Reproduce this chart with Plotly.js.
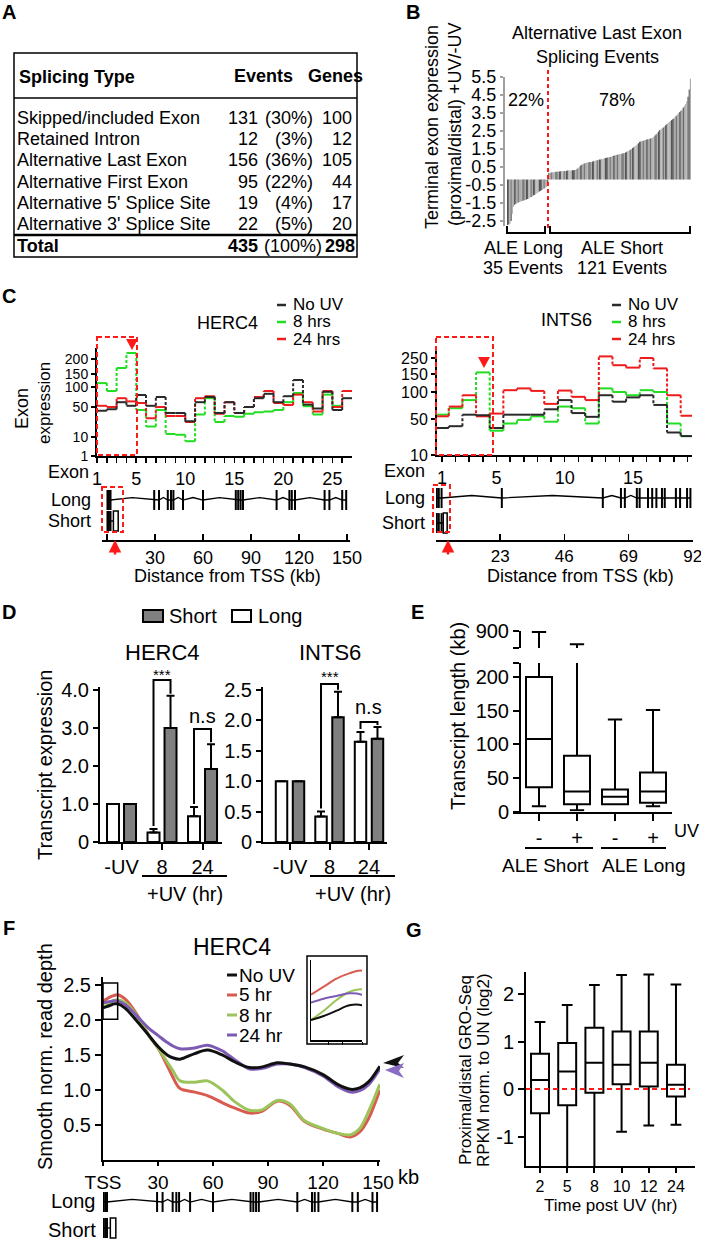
<!DOCTYPE html>
<html><head><meta charset="utf-8">
<script src="https://cdn.plot.ly/plotly-3.0.1.min.js"></script>
<style>html,body{margin:0;padding:0;background:#fff}#chart{width:701px;height:1244px}</style>
</head><body><div id="chart"></div>
<script>
// ================= DATA =================
// Panel A
const splicingTypes = ['Skipped/included Exon','Retained Intron','Alternative Last Exon','Alternative First Exon',"Alternative 5' Splice Site","Alternative 3' Splice Site"];
const splicingEvents = [131, 12, 156, 95, 19, 22];
const splicingEventPct = ['30%','3%','36%','22%','4%','5%'];
const splicingGenes = [100, 12, 105, 44, 17, 20];
const totalEvents = 435, totalEventPct = '100%', totalGenes = 298;

// Panel B (sorted terminal exon expression ratios)
const aleLongValues = [-2.72,-2.70,-2.66,-2.5,-2.1,-1.72,-1.6,-1.55,-1.5,-1.47,-1.44,-1.42,-1.4,-1.38,-1.35,-1.33,-1.31,-1.28,-1.25,-1.2,-1.17,-1.13,-1.08,-1.04,-1.0,-0.95,-0.9,-0.86,-0.82,-0.78,-0.74,-0.7,-0.66,-0.6,-0.55];
const aleShortValues = [0.16,0.18,0.19,0.2,0.21,0.22,0.23,0.24,0.25,0.25,0.26,0.27,0.27,0.28,0.28,0.29,0.3,0.3,0.31,0.31,0.32,0.32,0.33,0.34,
  0.4,0.46,0.52,0.58,0.63,0.67,0.7,0.72,0.74,0.75,0.76,0.77,0.78,0.8,
  0.82,0.84,0.86,0.88,0.9,0.91,0.92,0.94,0.96,0.98,1.0,1.01,1.02,1.04,1.06,1.08,1.1,1.12,1.14,1.16,1.18,1.2,1.21,1.22,1.24,1.26,1.28,1.3,
  1.34,1.38,1.42,1.46,1.5,1.55,1.6,1.65,1.7,1.76,1.82,1.9,
  1.92,1.94,1.96,1.98,2.0,2.02,2.04,2.06,2.08,2.1,2.12,
  2.18,2.25,2.32,2.4,2.47,2.55,2.6,2.65,2.7,2.75,2.82,2.88,2.94,3.0,
  3.05,3.1,3.15,3.2,3.28,3.35,3.42,3.5,3.56,3.62,3.7,3.8,3.9,
  4.0,4.15,4.4,4.8,5.4];
const bTickVals = [-2.5,-1.5,-0.5,0.5,1.5,2.5,3.5,4.5,5.5];

// Panel C - HERC4 exon expression
const hercExons = [1,2,3,4,5,6,7,8,9,10,11,12,13,14,15,16,17,18,19,20,21,22,23,24,25,26];
const hercNoUV = [45,47,62,53,80,53,75,42,42,31,62,75,42,62,42,50,72,83,62,77,127,56,48,88,46,72];
const herc8h   = [115,90,170,220,46,24,46,14,13,8,40,72,30,38,37,41,43,44,46,62,85,52,40,81,53,null];
const herc24h  = [53,50,72,64,60,35,50,38,38,30,72,77,41,62,42,50,75,90,60,55,81,62,44,90,50,90];
const hercExpTicks = [1,10,50,100,150,200];
const hercExonLabels = [1,5,10,15,20,25];
// Panel C - INTS6 exon expression
const intsExons = [1,2,3,4,5,6,7,8,9,10,11,12,13,14,15,16,17,18,19];
const intsNoUV = [40,42,58,57,40,58,58,58,68,85,61,54,94,82,90,94,76,35,31];
const ints8h   = [58,70,85,160,37,45,49,55,47,73,70,45,110,100,94,105,100,45,31];
const ints24h  = [55,73,94,55,60,105,110,103,78,104,91,85,260,205,190,250,185,94,56];
const intsExpTicks = [10,50,100,150,250];
const intsExonLabels = [1,5,10,15];
// gene structures (kb from TSS)
const hercLongExonsKb = [0.3,1.2,2.2,29.5,32.5,38,40,41.5,47.5,60,80.5,82,83.5,85,106,114,115.5,117.5,136,139,147,149.5];
const hercShortExonsKb = [0.3,1.2,2.2];
const hercShortLastExonKb = [4,7];
const intsLongExonsKb = [0.3,1.0,2.0,23.6,59.8,66.3,67.7,72,73,76,77.5,79,81,82,86,87.5,90,91.2];
const intsShortExonsKb = [0.3,1.0,2.0];
const intsShortLastExonKb = [2.6,4.0];
const hercDistTicks = [0,30,60,90,120,150];
const intsDistTicks = [0,23,46,69,92];

// Panel D - transcript expression
const dCategories = ['-UV','8','24'];
const hercLong = [1.0,0.25,0.68];
const hercLongErr = [null,0.09,0.24];
const hercShort = [1.0,3.0,1.92];
const hercShortErr = [null,0.85,0.65];
const intsLong = [1.0,0.42,1.65];
const intsLongErr = [null,0.08,0.16];
const intsShort = [1.0,2.05,1.7];
const intsShortErr = [null,0.42,0.19];

// Panel E - transcript length (kb)
const eGroupsUV = ['-','+','-','+'];
const eQ1 = [36,11,11,13];
const eMedian = [108,30,22,30];
const eQ3 = [200,83,33,58];
const eLower = [8,2,11,8];
const eUpper = [895,810,137,151];

// Panel F - smooth normalized read depth, HERC4
const fKb = [0,2,4,6,8,12,18,25,30,35,38,42,50,57,65,72,80,87,95,102,110,120,128,135,140,145,151];
const fNoUV = [2.175,2.19,2.21,2.23,2.23,2.17,2.0,1.78,1.62,1.5,1.46,1.44,1.52,1.57,1.5,1.4,1.32,1.33,1.39,1.37,1.33,1.22,1.08,1.01,1.03,1.12,1.34];
const f5hr  = [2.27,2.3,2.33,2.35,2.36,2.3,2.1,1.78,1.6,1.35,1.19,1.02,0.97,0.92,0.82,0.74,0.67,0.7,0.84,0.78,0.55,0.44,0.38,0.33,0.4,0.6,1.0];
const f8hr  = [2.175,2.21,2.25,2.28,2.29,2.25,2.08,1.78,1.6,1.4,1.28,1.13,1.11,1.13,1.0,0.83,0.71,0.72,0.85,0.8,0.56,0.45,0.38,0.36,0.45,0.7,1.08];
const f24hr = [2.24,2.255,2.265,2.275,2.27,2.22,2.07,1.88,1.78,1.68,1.63,1.59,1.6,1.64,1.56,1.43,1.3,1.31,1.37,1.37,1.32,1.2,1.05,0.97,0.99,1.08,1.3];
const fTickKb = [0,30,60,90,120,150];
const fTickLabels = ['TSS','30','60','90','120','150'];

// Panel G - proximal/distal GRO-Seq
const gTimes = ['2','5','8','10','12','24'];
const gQ1 = [-0.51,-0.34,-0.08,0.1,0.05,-0.16];
const gMedian = [0.19,0.37,0.55,0.51,0.55,0.09];
const gQ3 = [0.74,0.97,1.29,1.21,1.21,0.51];
const gLower = [-1.72,-2.0,-1.8,-0.9,-0.77,-0.75];
const gUpper = [1.41,1.77,2.19,2.4,2.41,2.2];

// ================= HELPERS =================
const W = 701, H = 1244;
const X = p => p / W;
const Y = p => 1 - p / H;
const dX = (a, b) => [X(a), X(b)];
const dY = (top, bottom) => [Y(bottom), Y(top)];
const FONT = 'Liberation Sans, Arial, Helvetica, sans-serif';
const BLACK = '#000';
const GREEN = '#22dd22', RED = '#ee1c1c', DARK = '#2a2a2a';
const F = (s) => ({size:s, family:FONT, color:BLACK});

function ax(o) {
  return Object.assign({showgrid:false, zeroline:false, showline:true, linecolor:BLACK, linewidth:2,
    ticks:'outside', tickcolor:BLACK, tickwidth:2, ticklen:5, tickfont:F(18), ticklabeloverflow:'allow',
    fixedrange:true, automargin:false}, o);
}
const annotations = [];
const shapes = [];
function txt(t, x, y, o) {
  annotations.push(Object.assign({text:t, x:X(x), y:Y(y), xref:'paper', yref:'paper', showarrow:false,
    xanchor:'center', yanchor:'middle', font:F(18), borderpad:0}, o || {}));
}
function lineP(x0, y0, x1, y1, o) {
  shapes.push(Object.assign({type:'line', xref:'paper', yref:'paper', x0:X(x0), y0:Y(y0), x1:X(x1), y1:Y(y1),
    line:{color:BLACK, width:2}}, o || {}));
}
function rectP(x0, y0, x1, y1, o) {
  shapes.push(Object.assign({type:'rect', xref:'paper', yref:'paper', x0:X(x0), y0:Y(y0), x1:X(x1), y1:Y(y1),
    line:{color:BLACK, width:1.5}}, o || {}));
}
function pathP(pts, o) {
  const closed = !(o && o.closed === false);
  const d = pts.map((p, i) => (i ? 'L' : 'M') + X(p[0]) + ',' + Y(p[1])).join(' ') + (closed ? ' Z' : '');
  const s = Object.assign({type:'path', xref:'paper', yref:'paper', path:d, line:{width:0}}, o || {});
  delete s.closed;
  shapes.push(s);
}
// piecewise axis for segmented exon-expression scales
function segMap(v, vals, pos) {
  if (v == null) return null;
  for (let i = 0; i < vals.length - 1; i++) {
    if (v <= vals[i + 1] || i === vals.length - 2) {
      return pos[i] + (v - vals[i]) / (vals[i + 1] - vals[i]) * (pos[i + 1] - pos[i]);
    }
  }
}
// pixel geometry of the D subplots (shared by layout and bracket annotations)
const D1 = {x0:100, x1:222, r0:-0.531, r1:2.481, yTop:687, yBot:842, yMax:4.079};
const D2 = {x0:263, x1:387, r0:-0.684, r1:2.456, yTop:687, yBot:842, yMax:2.549};
const pxX = (g, v) => g.x0 + (v - g.r0) / (g.r1 - g.r0) * (g.x1 - g.x0);
const pxY = (g, v) => g.yBot - v / g.yMax * (g.yBot - g.yTop);

const traces = [];

// ================= PANEL A (table) =================
txt('<b>A</b>', 9, 12, {font:F(20)});
rectP(14, 53, 357, 257, {line:{color:BLACK, width:1.5}});
lineP(14, 98, 357, 98, {line:{color:BLACK, width:1.5}});
lineP(14, 235, 357, 235, {line:{color:BLACK, width:2.5}});
txt('<b>Splicing Type</b>', 18, 77, {xanchor:'left'});
txt('<b>Events</b>', 263, 76);
txt('<b>Genes</b>', 335, 76);
splicingTypes.forEach((t, i) => {
  const y = 118 + i * 21.2;
  txt(t, 16, y, {xanchor:'left'});
  txt(String(splicingEvents[i]), 259, y, {xanchor:'right'});
  txt('(' + splicingEventPct[i] + ')', 314, y, {xanchor:'right'});
  txt(String(splicingGenes[i]), 353, y, {xanchor:'right'});
});
txt('<b>Total</b>', 16, 246, {xanchor:'left'});
txt('<b>' + totalEvents + '</b>', 259, 246, {xanchor:'right'});
txt('(' + totalEventPct + ')', 263, 246, {xanchor:'left'});
txt('<b>' + totalGenes + '</b>', 356, 246, {xanchor:'right'});

// ================= PANEL B =================
const B_BASE = -0.2;
const bVals = aleLongValues.concat(aleShortValues);
const shadePattern = 'DDLDLLDDLDLLLDDLDDLLDLDDLLLD';
traces.push({type:'bar', x:bVals.map((_, i) => i + 1), y:bVals.map(v => v - B_BASE), base:B_BASE,
  width:1, xaxis:'x', yaxis:'y', hoverinfo:'skip',
  marker:{color:bVals.map((_, i) => shadePattern[i % shadePattern.length] === 'D' ? '#555555' : '#adadad'), line:{width:0}}});
txt('<b>B</b>', 413, 12, {font:F(20)});
txt('Alternative Last Exon', 597, 33);
txt('Splicing Events', 597, 57);
txt('22%', 526, 100);
txt('78%', 617, 100);
lineP(548, 70, 548, 230, {line:{color:'#ff1a1a', width:2, dash:'4px,3px'}});
pathP([[507,226],[507,233],[545,233],[545,226]], {closed:false, line:{color:BLACK, width:2}});
pathP([[550,226],[550,233],[690,233],[690,226]], {closed:false, line:{color:BLACK, width:2}});
txt('ALE Long', 523, 248);
txt('35 Events', 523, 268);
txt('ALE Short', 622, 248);
txt('121 Events', 622, 268);
txt('Terminal exon expression', 432, 127, {textangle:-90});
txt('(proximal/distal) +UV/-UV', 455, 124, {textangle:-90});

// ================= PANEL C =================
function stepTraces(xa, ya, exons, vals, mapFn, startOff, color) {
  const hx = [], hy = [], vx = [], vy = [];
  exons.forEach((e, i) => {
    const v = vals[i];
    if (v == null) return;
    const s = e + startOff;
    hx.push(s, s + 1, null); hy.push(mapFn(v), mapFn(v), null);
    const nv = vals[i + 1];
    if (i < exons.length - 1 && nv != null) { vx.push(s + 1, s + 1, null); vy.push(mapFn(v), mapFn(nv), null); }
  });
  return [
    {type:'scatter', mode:'lines', x:hx, y:hy, xaxis:xa, yaxis:ya, line:{color:color, width:2}, hoverinfo:'skip'},
    {type:'scatter', mode:'lines', x:vx, y:vy, xaxis:xa, yaxis:ya, line:{color:color, width:2, dash:'3px,2px'}, hoverinfo:'skip'}
  ];
}
function geneTraces(xa, ya, exons, row, halfH) {
  const ix = [], iy = [];
  exons.forEach((e, i) => {
    ix.push(e); iy.push(row);
    if (i < exons.length - 1 && exons[i + 1] - e > 4) { ix.push((e + exons[i + 1]) / 2); iy.push(row + 0.045); }
  });
  const ex = [], ey = [];
  exons.forEach(e => { ex.push(e, e, null); ey.push(row - halfH, row + halfH, null); });
  return [
    {type:'scatter', mode:'lines', x:ix, y:iy, xaxis:xa, yaxis:ya, line:{color:BLACK, width:1.3}, hoverinfo:'skip'},
    {type:'scatter', mode:'lines', x:ex, y:ey, xaxis:xa, yaxis:ya, line:{color:BLACK, width:2}, hoverinfo:'skip'}
  ];
}
function shortGene(xa, ya, exons, lastExon, row, halfH) {
  traces.push({type:'scatter', mode:'lines', x:[exons[0], lastExon[0]], y:[row, row], xaxis:xa, yaxis:ya, line:{color:BLACK, width:1.3}, hoverinfo:'skip'});
  geneTraces(xa, ya, exons, row, halfH).forEach(t => traces.push(t));
  shapes.push({type:'rect', xref:xa, yref:ya, x0:lastExon[0], x1:lastExon[1], y0:row - halfH, y1:row + halfH,
    line:{color:BLACK, width:1.5}, fillcolor:'rgba(0,0,0,0)'});
}
const hercPos = [0,19,49,69,82,97];
const intsPos = [0,36,63,81,97];
const hMap = v => segMap(v, hercExpTicks, hercPos);
const iMap = v => segMap(v, intsExpTicks, intsPos);

txt('<b>C</b>', 9, 296, {font:F(20)});
[[herc8h, GREEN], [herc24h, RED], [hercNoUV, DARK]].forEach(([vals, c]) =>
  stepTraces('x2', 'y2', hercExons, vals, hMap, 0, c).forEach(t => traces.push(t)));
[[ints8h, GREEN], [ints24h, RED], [intsNoUV, DARK]].forEach(([vals, c]) =>
  stepTraces('x4', 'y4', intsExons, vals, iMap, -0.5, c).forEach(t => traces.push(t)));
geneTraces('x3', 'y3', hercLongExonsKb, 0.727, 0.18).forEach(t => traces.push(t));
shortGene('x3', 'y3', hercShortExonsKb, hercShortLastExonKb, 0.345, 0.18);
geneTraces('x5', 'y5', intsLongExonsKb, 0.764, 0.18).forEach(t => traces.push(t));
shortGene('x5', 'y5', intsShortExonsKb, intsShortLastExonKb, 0.309, 0.18);

txt('HERC4', 227, 323);
txt('INTS6', 566, 320);
[[DARK, 'No UV', 305], [GREEN, '8 hrs', 322], [RED, '24 hrs', 339]].forEach(([c, t, y]) => {
  lineP(277, y, 286, y, {line:{color:c, width:2.5}});
  txt(t, 292, y, {xanchor:'left', font:F(17)});
  lineP(612, y, 621, y, {line:{color:c, width:2.5}});
  txt(t, 627, y, {xanchor:'left', font:F(17)});
});
txt('Exon', 22, 409, {textangle:-90});
txt('expression', 45, 403, {textangle:-90, font:F(17)});
txt('Exon', 90, 472, {xanchor:'right'});
txt('Exon', 426, 471, {xanchor:'right'});
txt('Long', 92, 500, {xanchor:'right'});
txt('Short', 92, 521, {xanchor:'right'});
txt('Long', 426, 498, {xanchor:'right'});
txt('Short', 426, 523, {xanchor:'right'});
txt('Distance from TSS (kb)', 227, 576);
txt('Distance from TSS (kb)', 580, 576);
const RD = {line:{color:'#ff1a1a', width:2, dash:'5px,3px'}, fillcolor:'rgba(0,0,0,0)'};
rectP(97, 337, 137, 455, RD);
rectP(436, 337, 493, 455, RD);
rectP(102, 487, 123, 532, RD);
rectP(433, 485, 450, 532, RD);
pathP([[126,339],[138,339],[132,350]], {fillcolor:'#ff1a1a'});
pathP([[478,357],[490,357],[484,368]], {fillcolor:'#ff1a1a'});
[[115, 540], [448, 540]].forEach(([x, y]) => {
  annotations.push({x:X(x), y:Y(y), xref:'paper', yref:'paper', text:'', showarrow:true, arrowhead:2,
    arrowsize:1, arrowwidth:2.5, arrowcolor:'#ff1a1a', ax:0, ay:16, standoff:0});
});

// ================= PANEL D =================
txt('<b>D</b>', 9, 612, {font:F(20)});
rectP(143, 610, 163, 622, {fillcolor:'#808080', line:{color:BLACK, width:2}});
txt('Short', 168, 616, {xanchor:'left', font:F(20)});
rectP(232, 610, 251, 622, {fillcolor:'#fff', line:{color:BLACK, width:2}});
txt('Long', 257, 616, {xanchor:'left', font:F(20)});
txt('HERC4', 162, 652, {font:F(22)});
txt('INTS6', 330, 652, {font:F(22)});
txt('Transcript expression', 45, 765, {textangle:-90, font:F(20)});
const nanify = a => a.map(v => v == null ? NaN : v);
function dBars(xa, ya, longV, longE, shortV, shortE, w, off) {
  const xs = dCategories.map((_, i) => i);
  const eb = (arr) => ({type:'data', symmetric:false, array:nanify(arr), arrayminus:arr.map(() => 0), color:BLACK, thickness:2, width:4});
  traces.push({type:'bar', x:xs, y:longV, width:w, offset:-off - w / 2, xaxis:xa, yaxis:ya, hoverinfo:'skip',
    marker:{color:'#fff', line:{color:BLACK, width:2}}, error_y:eb(longE)});
  traces.push({type:'bar', x:xs, y:shortV, width:w, offset:off - w / 2, xaxis:xa, yaxis:ya, hoverinfo:'skip',
    marker:{color:'#808080', line:{color:BLACK, width:2}}, error_y:eb(shortE)});
}
dBars('x6', 'y6', hercLong, hercLongErr, hercShort, hercShortErr, 0.296, 0.21);
dBars('x7', 'y7', intsLong, intsLongErr, intsShort, intsShortErr, 0.29, 0.215);
// significance brackets drawn in page pixels from the bar values
function bracket(g, i, off, longV, longE, shortV, shortE, topPx, label, labelPx) {
  const xl = pxX(g, i - off), xr = pxX(g, i + off);
  const yl = pxY(g, longV[i] + (longE[i] || 0)) - 3, yr = pxY(g, shortV[i] + (shortE[i] || 0)) - 2;
  pathP([[xl, yl], [xl, topPx], [xr, topPx], [xr, yr]], {closed:false, line:{color:BLACK, width:2}});
  txt(label, (xl + xr) / 2, labelPx, {font:F(label === '***' ? 15 : 20)});
}
bracket(D1, 1, 0.21, hercLong, hercLongErr, hercShort, hercShortErr, 680, '***', 674);
bracket(D1, 2, 0.21, hercLong, hercLongErr, hercShort, hercShortErr, 729, 'n.s', 716);
bracket(D2, 1, 0.215, intsLong, intsLongErr, intsShort, intsShortErr, 684, '***', 676);
bracket(D2, 2, 0.215, intsLong, intsLongErr, intsShort, intsShortErr, 722, 'n.s', 707);
lineP(142, 876, 227, 876);
lineP(310, 876, 395, 876);
txt('+UV (hr)', 185, 894, {font:F(20)});
txt('+UV (hr)', 353, 894, {font:F(20)});

// ================= PANEL E =================
txt('<b>E</b>', 417, 612, {font:F(20)});
const eBoxBase = {type:'box', orientation:'v', x:eGroupsUV.map((_, i) => i), q1:eQ1, median:eMedian, q3:eQ3,
  lowerfence:eLower, upperfence:eUpper, width:0.684, fillcolor:'#fff', line:{color:BLACK, width:2},
  whiskerwidth:0.55, boxpoints:false, hoverinfo:'skip', xaxis:'x8'};
traces.push(Object.assign({}, eBoxBase, {yaxis:'y8'}));
traces.push(Object.assign({}, eBoxBase, {yaxis:'y9'}));
txt('Transcript length (kb)', 458, 716, {textangle:-90, font:F(20)});
txt('UV', 686, 831);
lineP(525, 848, 593, 848);
lineP(601, 848, 666, 848);
txt('ALE Short', 545, 865, {font:F(19)});
txt('ALE Long', 643, 865, {font:F(19)});

// ================= PANEL F =================
txt('<b>F</b>', 9, 928, {font:F(20)});
const fSeries = [[f5hr, '#d95a4e'], [f8hr, '#9bc45a'], [f24hr, '#7d5bb3'], [fNoUV, '#111']];
fSeries.forEach(([v, c]) => traces.push({type:'scatter', mode:'lines', x:fKb, y:v, xaxis:'x10', yaxis:'y10',
  line:{color:c, width:3, shape:'spline', smoothing:0.9}, hoverinfo:'skip'}));
fSeries.forEach(([v, c]) => traces.push({type:'scatter', mode:'lines', x:fKb, y:v, xaxis:'x11', yaxis:'y11',
  line:{color:c, width:2, shape:'spline', smoothing:0.9}, hoverinfo:'skip'}));
geneTraces('x12', 'y12', hercLongExonsKb, 0.724, 0.172).forEach(t => traces.push(t));
shortGene('x12', 'y12', hercShortExonsKb, hercShortLastExonKb, 0.276, 0.172);
shapes.push({type:'rect', xref:'x10', yref:'y10', x0:0, x1:8, y0:2.01, y1:2.53, line:{color:BLACK, width:1.5}});
rectP(307, 956, 367, 1044, {line:{color:BLACK, width:1.5}});
txt('HERC4', 232, 947, {font:F(23)});
txt('Smooth norm. read depth', 45, 1057, {textangle:-90, font:F(20)});
txt('kb', 397, 1177, {xanchor:'left', font:F(20)});
[['#111', 'No UV', 975], ['#d95a4e', '5 hr', 995], ['#9bc45a', '8 hr', 1015], ['#7d5bb3', '24 hr', 1035]].forEach(([c, t, y]) => {
  lineP(227, y, 237, y, {line:{color:c, width:3}});
  txt(t, 238, y, {xanchor:'left', font:F(19)});
});
pathP([[383,1063],[404,1055],[398,1063],[404,1068]], {fillcolor:'#111'});
pathP([[385,1070],[404,1063],[399,1071],[404,1078]], {fillcolor:'#8a6cc4'});
txt('Long', 97, 1201, {xanchor:'right', font:F(20)});
txt('Short', 97, 1230, {xanchor:'right', font:F(20)});

// ================= PANEL G =================
txt('<b>G</b>', 414, 930, {font:F(20)});
traces.push({type:'box', orientation:'v', x:gTimes.map((_, i) => i), q1:gQ1, median:gMedian, q3:gQ3,
  lowerfence:gLower, upperfence:gUpper, width:0.66, fillcolor:'#fff', line:{color:BLACK, width:2},
  whiskerwidth:0.6, boxpoints:false, hoverinfo:'skip', xaxis:'x13', yaxis:'y13'});
shapes.push({type:'line', xref:'x13 domain', yref:'y13', x0:0, x1:0.97, y0:0, y1:0, layer:'above',
  line:{color:'#ff1a1a', width:2, dash:'5px,4px'}});
txt('Proximal/distal GRO-Seq', 465, 1070, {textangle:-90, font:F(17)});
txt('RPKM norm. to UN (log2)', 483, 1070, {textangle:-90, font:F(17)});
txt('Time post UV (hr)', 611, 1205, {font:F(17)});

// ================= LAYOUT =================
const layout = {
  width:W, height:H, margin:{l:0, r:0, t:0, b:0, pad:0}, showlegend:false,
  paper_bgcolor:'#fff', plot_bgcolor:'rgba(0,0,0,0)', barmode:'overlay',
  font:F(18),
  // B
  xaxis: ax({domain:dX(507, 691), range:[0.5, 156.5], visible:false, anchor:'y'}),
  yaxis: ax({domain:dY(77, 226), range:[-2.78, 5.5], anchor:'free', position:X(504), linecolor:'#a0a0a0',
    tickcolor:'#a0a0a0', ticklen:3, tickwidth:1.5, tickvals:bTickVals, ticktext:bTickVals.map(v => v.toFixed(1))}),
  // C HERC4 exon
  xaxis2: ax({domain:dX(97, 352), range:[1, 27], anchor:'y2', tickvals:hercExons,
    ticktext:hercExons.map(e => hercExonLabels.includes(e) ? String(e) : ''), ticklen:5, tickwidth:1.5}),
  yaxis2: ax({domain:dY(348, 456), range:[0, 108], anchor:'x2', tickvals:hercExpTicks.map(hMap),
    ticktext:hercExpTicks.map(String), tickfont:F(14), ticklen:4, tickwidth:1.5}),
  xaxis3: ax({domain:dX(102.2, 350.2), range:[-3, 152], anchor:'y3', tickvals:hercDistTicks,
    ticktext:hercDistTicks.map(v => v === 0 ? '' : String(v)), ticks:'inside', ticklen:6, tickwidth:1.5}),
  yaxis3: ax({domain:dY(485, 540), range:[0, 1], visible:false, anchor:'x3'}),
  // C INTS6 exon
  xaxis4: ax({domain:dX(435, 692), range:[0.49, 19.33], anchor:'y4', tickvals:intsExons,
    ticktext:intsExons.map(e => intsExonLabels.includes(e) ? String(e) : ''), ticklen:5, tickwidth:1.5}),
  yaxis4: ax({domain:dY(348, 455), range:[0, 107], anchor:'free', position:X(436), tickvals:intsExpTicks.map(iMap),
    ticktext:intsExpTicks.map(String), tickfont:F(16), ticklen:4, tickwidth:1.5}),
  xaxis5: ax({domain:dX(436, 693.2), range:[0, 92.2], anchor:'y5', tickvals:intsDistTicks,
    ticktext:intsDistTicks.map(v => v === 0 ? '' : String(v)), ticks:'inside', ticklen:6, tickwidth:1.5, tickfont:F(17)}),
  yaxis5: ax({domain:dY(485, 540), range:[0, 1], visible:false, anchor:'x5'}),
  // D
  xaxis6: ax({domain:dX(D1.x0, D1.x1), range:[D1.r0, D1.r1], anchor:'y6', tickvals:[0,1,2], ticktext:dCategories,
    tickfont:F(20), ticklen:6}),
  yaxis6: ax({domain:dY(D1.yTop, D1.yBot), range:[0, D1.yMax], anchor:'x6', tickvals:[0,1,2,3,4],
    ticktext:['0','1.0','2.0','3.0','4.0'], tickfont:F(20), ticklen:5}),
  xaxis7: ax({domain:dX(D2.x0, D2.x1), range:[D2.r0, D2.r1], anchor:'y7', tickvals:[0,1,2], ticktext:dCategories,
    tickfont:F(20), ticklen:6}),
  yaxis7: ax({domain:dY(D2.yTop, D2.yBot), range:[0, D2.yMax], anchor:'x7', tickvals:[0,0.5,1,1.5,2,2.5],
    ticktext:['0','0.5','1.0','1.5','2.0','2.5'], tickfont:F(20), ticklen:5}),
  // E
  xaxis8: ax({domain:dX(513, 672), range:[-0.684, 3.5], anchor:'y8', tickvals:[0,1,2,3], ticktext:eGroupsUV,
    tickfont:F(20), ticklen:7}),
  yaxis8: ax({domain:dY(663, 811.6), range:[0, 220.8], anchor:'free', position:X(520), tickvals:[0,50,100,150,200,220.8],
    ticktext:['0','50','100','150','200',''], tickfont:F(20), ticklen:6}),
  yaxis9: ax({domain:dY(631, 648), range:[785, 902], anchor:'free', position:X(520), tickvals:[900, 787],
    ticktext:['900',''], tickfont:F(20), ticklen:6}),
  // F
  xaxis10: ax({domain:dX(103, 380), range:[0, 151.1], anchor:'y10', tickvals:fTickKb, ticktext:fTickLabels,
    tickfont:F(19), ticklen:4}),
  yaxis10: ax({domain:dY(977, 1160), range:[0, 2.614], anchor:'x10', tickvals:[0.5,1,1.5,2,2.5],
    ticktext:['0.5','1.0','1.5','2.0','2.5'], tickfont:F(20), ticklen:6}),
  xaxis11: ax({domain:dX(311, 362), range:[0, 8], anchor:'y11', tickvals:[2.7, 5, 8], showticklabels:false,
    ticklen:3, tickwidth:1, linewidth:1.5}),
  yaxis11: ax({domain:dY(960, 1040), range:[2.1, 2.4], anchor:'x11', showticklabels:false, ticks:'', linewidth:1.5}),
  xaxis12: ax({domain:dX(103, 380), range:[0, 151.1], anchor:'y12', visible:false}),
  yaxis12: ax({domain:dY(1186, 1244), range:[0, 1], anchor:'x12', visible:false}),
  // G
  xaxis13: ax({domain:dX(526, 695), range:[-0.515, 5.7], anchor:'y13', tickvals:gTimes.map((_, i) => i), ticktext:gTimes,
    tickfont:F(16), ticklen:5}),
  yaxis13: ax({domain:dY(972, 1166), range:[-1.621, 2.463], anchor:'x13', tickvals:[-1,0,1,2],
    ticktext:['-1','0','1','2'], tickfont:F(20), ticklen:6}),
  annotations: annotations,
  shapes: shapes
};
Plotly.newPlot('chart', traces, layout, {staticPlot:true, displayModeBar:false});
</script>
</body></html>
